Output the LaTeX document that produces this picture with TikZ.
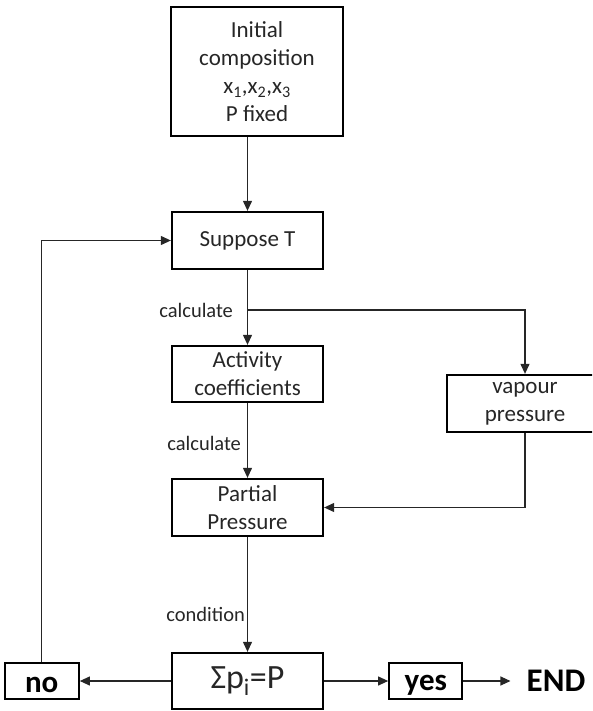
\documentclass[tikz,border=0pt]{standalone}
\usepackage{fontspec}
\setmainfont{Carlito}
\usetikzlibrary{arrows.meta,positioning}

\begin{document}
\begin{tikzpicture}[x=1pt,y=-1pt,
  box/.style={draw,line width=2.3pt,minimum width=151pt,minimum height=57pt,inner sep=0pt,align=center,text=black!85,font=\fontsize{23}{28}\selectfont},
  answer/.style={draw,line width=2.3pt,minimum height=36pt,inner xsep=0pt,inner ysep=0pt,font=\fontsize{31}{31}\selectfont\bfseries},
  note/.style={anchor=east,inner sep=0pt,text=black!85,font=\fontsize{20.5}{24}\selectfont},
  flow/.style={-{Triangle[length=10pt,width=9pt]},line width=1.1pt,black!85}]

\clip (0,0) rectangle (592,711);

% the boxes
\node[box,minimum width=172pt,minimum height=129pt] (init) at (257,71.5) {Initial\\composition\\x\textsubscript{1},x\textsubscript{2},x\textsubscript{3}\\P fixed};
\node[box] (suppose) at (247.5,240.5) {Suppose T};
\node[box,minimum height=56pt] (activity) at (247.5,374) {Activity\\coefficients};
\node[box,minimum width=156pt] (vapour) at (525,403.5) {vapour\\pressure};
\node[box] (partial) at (247.5,507.5) {Partial\\Pressure};
\node[box,minimum height=56pt,font=\fontsize{34}{34}\selectfont] (sum) at (247.5,681) {Σp\textsubscript{i}=P};

% the answers
\node[answer,minimum width=74pt,text height=22pt,text depth=0pt,left=91pt of sum] (no) {no};
\node[answer,minimum width=73pt,text height=20pt,text depth=2pt,right=64pt of sum] (yes) {yes};
\node[right=47pt of yes,inner xsep=16pt,inner ysep=0pt,font=\fontsize{33}{33}\selectfont\bfseries] (end) {END};

% the arrows
\coordinate (split) at (247.5,310);
\draw[flow] (init.south -| suppose.north) -- (suppose.north);
\draw[flow] (suppose.south) -- node[note,pos=0.545,xshift=-14pt] {calculate} (activity.north);
\draw[flow] (split) -| (vapour.north);
\draw[flow] (activity.south) -- node[note,pos=0.545,xshift=-6pt] {calculate} (partial.north);
\draw[flow] (vapour.south) |- (partial.east);
\draw[flow] (partial.south) -- node[note,pos=0.675,xshift=-2pt] {condition} (sum.north);
\draw[flow] (sum.west) -- (no.east);
\draw[flow] (no.north) |- (suppose.west);
\draw[flow] (sum.east) -- (yes.west);
\draw[flow] (yes.east) -- (end.west);

\end{tikzpicture}
\end{document}
